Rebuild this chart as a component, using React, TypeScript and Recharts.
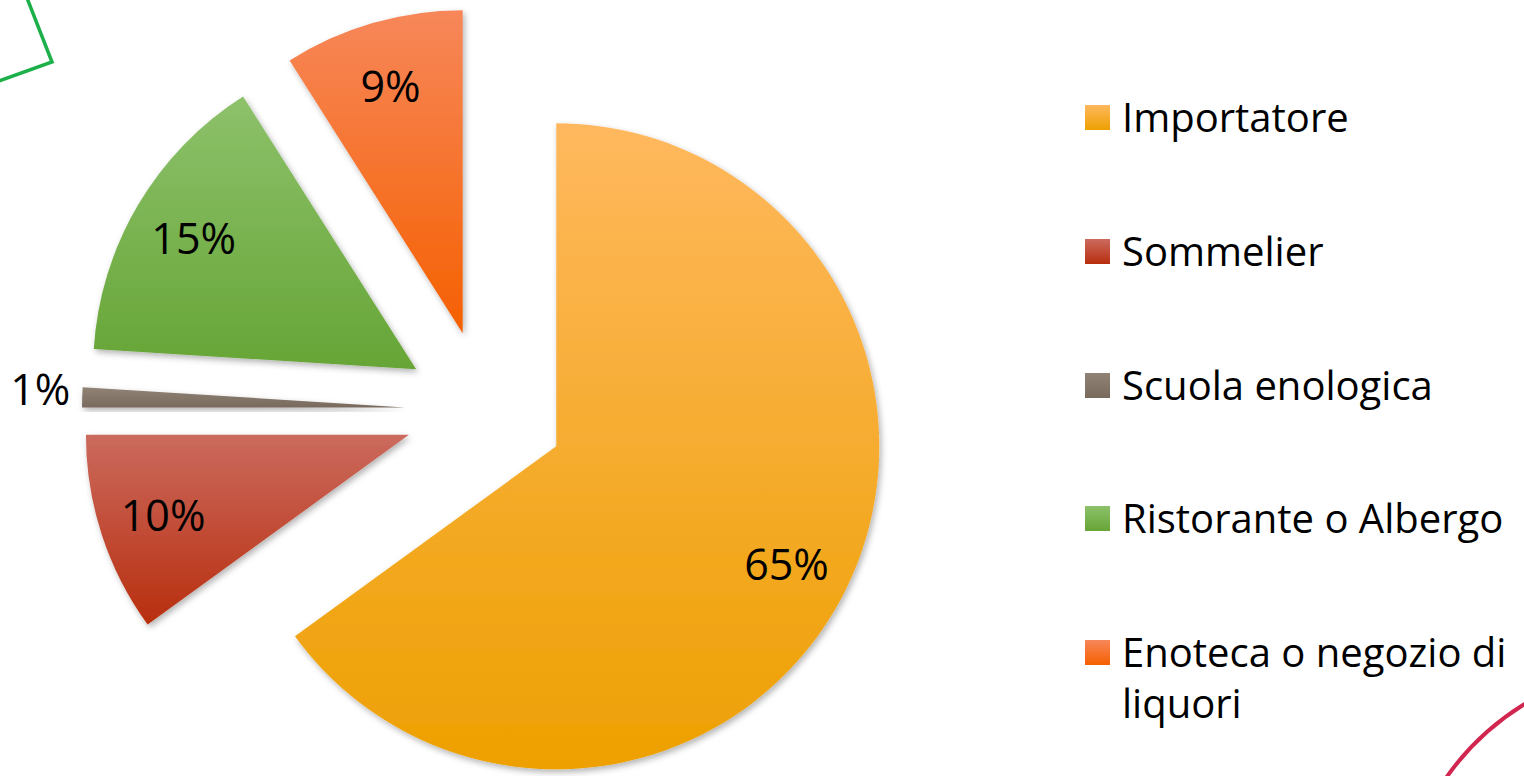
import { PieChart, Pie, Sector, Legend } from 'recharts';

const CATEGORIES = ['Importatore', 'Sommelier', 'Scuola enologica', 'Ristorante o Albergo', 'Enoteca o negozio di liquori'];
const SHARES = [65, 10, 1, 15, 9];
const COLORS_TOP = ['#FFB85E', '#CB6A5E', '#908376', '#8DC16B', '#F7875A'];
const COLORS_BOTTOM = ['#EDA000', '#B82E0E', '#786A5D', '#66A536', '#F56000'];

const data = CATEGORIES.map((name, i) => ({ name, value: SHARES[i] }));

const FONT = '"Open Sans", "Noto Sans", sans-serif';
const EXPLODE = 80;
const RAD = Math.PI / 180;

// every slice is pulled out of the pie along its mid angle, label drawn with it
function ExplodedSlice(props: any) {
  const { cx, cy, midAngle, innerRadius, outerRadius, startAngle, endAngle, percent, index } = props;
  const ux = Math.cos(-midAngle * RAD);
  const uy = Math.sin(-midAngle * RAD);
  const x0 = cx + EXPLODE * ux;
  const y0 = cy + EXPLODE * uy;
  const outside = percent < 0.05;
  const lr = outside ? outerRadius + 42 : outerRadius * 0.8;
  return (
    <g>
      <Sector
        cx={x0} cy={y0}
        innerRadius={innerRadius} outerRadius={outerRadius}
        startAngle={startAngle} endAngle={endAngle}
        fill={`url(#slice-${index})`} stroke="none"
        filter="url(#slice-shadow)"
      />
      <text
        x={x0 + lr * ux} y={y0 + lr * uy - (outside ? 8 : 0)}
        textAnchor="middle" dominantBaseline="central"
        fontSize={43} fill="#000" fontFamily={FONT}
      >
        {Math.round(percent * 100)}%
      </text>
    </g>
  );
}

function renderLegend({ payload }: any) {
  // keep the data order, not recharts' alphabetical one
  const items = CATEGORIES.map((name) => (payload ?? []).find((p: any) => p.value === name)).filter(Boolean);
  return (
    <div style={{ position: 'relative', width: 439, height: 776, fontFamily: FONT }}>
      {items.map((p: any, i: number) => (
        <div key={p.value} style={{ position: 'absolute', left: 0, top: 91 + i * 133.75, width: 439 }}>
          <div style={{
            position: 'absolute', left: 0, top: 14, width: 25, height: 25,
            background: `linear-gradient(${COLORS_TOP[i]}, ${COLORS_BOTTOM[i]})`,
          }} />
          <div style={{ marginLeft: 37, width: 400, fontSize: 40, lineHeight: '51px', color: '#000' }}>
            {p.value}
          </div>
        </div>
      ))}
    </div>
  );
}

export default function App() {
  return (
    <div style={{ position: 'absolute', left: 0, top: 0, width: 1524, height: 776, background: '#fff', overflow: 'hidden' }}>
      <svg width={1524} height={776} style={{ position: 'absolute', left: 0, top: 0 }}>
        <polyline points="27,-2 52,62 -4,82" fill="none" stroke="#1DB04A" strokeWidth={3.5} />
        <path d="M1446 778 Q1478 732 1528 702" fill="none" stroke="#D0264F" strokeWidth={4} />
      </svg>
      <PieChart width={1524} height={776} margin={{ top: 0, right: 0, bottom: 0, left: 0 }} style={{ position: 'absolute', left: 0, top: 0 }}>
        <defs>
          {COLORS_TOP.map((c, i) => (
            <linearGradient key={i} id={`slice-${i}`} x1="0" y1="0" x2="0" y2="1">
              <stop offset="0%" stopColor={c} />
              <stop offset="100%" stopColor={COLORS_BOTTOM[i]} />
            </linearGradient>
          ))}
          <filter id="slice-shadow" x="-20%" y="-20%" width="140%" height="140%">
            <feDropShadow dx={2} dy={3} stdDeviation={3} floodColor="#000" floodOpacity={0.3} />
          </filter>
        </defs>
        <Pie
          data={data}
          dataKey="value"
          nameKey="name"
          cx={485}
          cy={410}
          innerRadius={0}
          outerRadius={323}
          startAngle={90}
          endAngle={-270}
          fill="transparent"
          stroke="none"
          label={ExplodedSlice}
          labelLine={false}
          isAnimationActive={false}
        />
        <Legend
          layout="vertical"
          align="right"
          verticalAlign="top"
          content={renderLegend}
          wrapperStyle={{ left: 1085, top: 0, width: 439 }}
        />
      </PieChart>
    </div>
  );
}
